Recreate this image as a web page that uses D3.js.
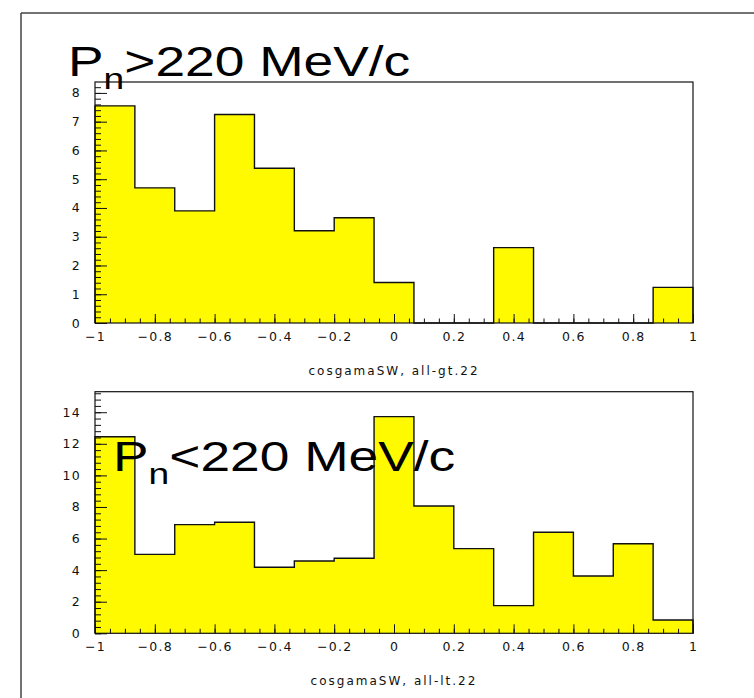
<!DOCTYPE html>
<html>
<head>
<meta charset="utf-8">
<script src="https://cdn.jsdelivr.net/npm/d3@7"></script>
<style>
  html, body { margin: 0; padding: 0; background: #fff; }
  svg { display: block; }
  .lbl { font-family: "DejaVu Sans", sans-serif; font-size: 12.5px; letter-spacing: 1.3px; fill: #111; }
  .ttl { font-family: "DejaVu Sans", sans-serif; font-size: 12px; letter-spacing: 2px; fill: #111; }
  .big { font-family: "Liberation Sans", Arial, sans-serif; fill: #000; }
</style>
</head>
<body>
<script>
// cos(gamma) histogram range and binning
const xRange = [-1, 1];
const nBins = 15;

// Bin contents, P_n > 220 MeV/c sample
const countsHigh = [7.55, 4.70, 3.90, 7.25, 5.38, 3.21, 3.66, 1.41, 0, 0, 2.62, 0, 0, 0, 1.24];
// Bin contents, P_n < 220 MeV/c sample
const countsLow = [12.45, 5.00, 6.88, 7.03, 4.18, 4.58, 4.75, 13.72, 8.06, 5.36, 1.75, 6.40, 3.63, 5.67, 0.84];

// Axis tick values and labels
const xMajorTicks = [-1, -0.8, -0.6, -0.4, -0.2, 0, 0.2, 0.4, 0.6, 0.8, 1];
const xTickLabels = ["\u22121", "\u22120.8", "\u22120.6", "\u22120.4", "\u22120.2", "0", "0.2", "0.4", "0.6", "0.8", "1"];
const yMajorHigh = [0, 1, 2, 3, 4, 5, 6, 7, 8];
const yMajorLow = [0, 2, 4, 6, 8, 10, 12, 14];

const axisTitles = ["cosgamaSW, all-gt.22", "cosgamaSW, all-lt.22"];
const panelTitles = [
  { main: "P", sub: "n", rest: ">220 MeV/c" },
  { main: "P", sub: "n", rest: "<220 MeV/c" }
];

const W = 754, H = 698;
const svg = d3.select("body").append("svg").attr("width", W).attr("height", H);

// outer canvas frame (top and left edges)
svg.append("line").attr("x1", 21).attr("y1", 13).attr("x2", W).attr("y2", 13)
  .attr("stroke", "#444").attr("stroke-width", 1.5);
svg.append("line").attr("x1", 21).attr("y1", 13).attr("x2", 21).attr("y2", H)
  .attr("stroke", "#444").attr("stroke-width", 1.5);

const edges = d3.range(nBins + 1).map(i => xRange[0] + (xRange[1] - xRange[0]) * i / nBins);

function drawPanel(cfg) {
  const x = d3.scaleLinear().domain(xRange).range([cfg.left, cfg.right]);
  const y = d3.scaleLinear().domain([0, cfg.yMax]).range([cfg.bottom, cfg.top]);
  const g = svg.append("g");

  // step outline of the histogram
  const pts = [[edges[0], 0]];
  cfg.counts.forEach((c, i) => { pts.push([edges[i], c]); pts.push([edges[i + 1], c]); });
  pts.push([edges[nBins], 0]);
  const line = d3.line().x(d => x(d[0])).y(d => y(d[1]));
  const area = d3.area().x(d => x(d[0])).y0(y(0)).y1(d => y(d[1]));

  g.append("path").datum(pts).attr("d", area).attr("fill", "#fffa00");
  g.append("path").datum(pts).attr("d", line).attr("fill", "none")
    .attr("stroke", "#111").attr("stroke-width", 1.4);

  // x axis: minor ticks every 0.05, major every 0.2 (pointing inward)
  const xMinor = d3.range(0, 41).map(i => -1 + i * 0.05);
  g.append("g").attr("transform", `translate(0,${cfg.bottom})`)
    .call(d3.axisBottom(x).tickValues(xMinor).tickSizeInner(-4.5).tickSizeOuter(0).tickFormat(""))
    .call(a => a.select(".domain").remove())
    .call(a => a.selectAll("line").attr("stroke", "#111"));
  g.append("g").attr("transform", `translate(0,${cfg.bottom})`)
    .call(d3.axisBottom(x).tickValues(xMajorTicks).tickSizeInner(-9).tickSizeOuter(0)
      .tickPadding(9).tickFormat((d, i) => xTickLabels[i]))
    .call(a => a.select(".domain").remove())
    .call(a => a.selectAll("line").attr("stroke", "#111"))
    .call(a => a.selectAll("text").attr("class", "lbl").attr("font-size", null).attr("font-family", null).attr("fill", null));

  // y axis: minor and major ticks
  g.append("g").attr("transform", `translate(${cfg.left},0)`)
    .call(d3.axisLeft(y).tickValues(cfg.yMinor).tickSizeInner(-6).tickSizeOuter(0).tickFormat(""))
    .call(a => a.select(".domain").remove())
    .call(a => a.selectAll("line").attr("stroke", "#111"));
  g.append("g").attr("transform", `translate(${cfg.left},0)`)
    .call(d3.axisLeft(y).tickValues(cfg.yMajor).tickSizeInner(-12).tickSizeOuter(0).tickPadding(14).tickFormat(d3.format("d")))
    .call(a => a.select(".domain").remove())
    .call(a => a.selectAll("line").attr("stroke", "#111"))
    .call(a => a.selectAll("text").attr("class", "lbl").attr("font-size", null).attr("font-family", null).attr("fill", null));

  // plot frame
  g.append("rect").attr("x", cfg.left).attr("y", cfg.top)
    .attr("width", cfg.right - cfg.left).attr("height", cfg.bottom - cfg.top)
    .attr("fill", "none").attr("stroke", "#111").attr("stroke-width", 1.2);

  // axis title
  g.append("text").attr("class", "ttl")
    .attr("x", (cfg.left + cfg.right) / 2).attr("y", cfg.bottom + 52)
    .attr("text-anchor", "middle").text(cfg.axisTitle);

  return g;
}

drawPanel({
  left: 95, right: 693, top: 82, bottom: 323, yMax: 8.38,
  counts: countsHigh, yMajor: yMajorHigh,
  yMinor: d3.range(0, 42).map(i => i * 0.2).filter(v => v <= 8.38),
  axisTitle: axisTitles[0]
});
drawPanel({
  left: 95, right: 693, top: 391.7, bottom: 633.3, yMax: 15.3,
  counts: countsLow, yMajor: yMajorLow,
  yMinor: d3.range(0, 39).map(i => i * 0.4).filter(v => v <= 15.3),
  axisTitle: axisTitles[1]
});

// large panel titles, drawn on top
function bigTitle(t, x0, y0) {
  const txt = svg.append("text").attr("class", "big")
    .attr("transform", `translate(${x0},${y0}) scale(1.24,1)`)
    .attr("font-size", 43);
  txt.append("tspan").text(t.main);
  txt.append("tspan").attr("font-size", 30).attr("dy", 13).text(t.sub);
  txt.append("tspan").attr("dy", -13).text(t.rest);
}
bigTitle(panelTitles[0], 68, 76);
bigTitle(panelTitles[1], 113, 471);
</script>
</body>
</html>
